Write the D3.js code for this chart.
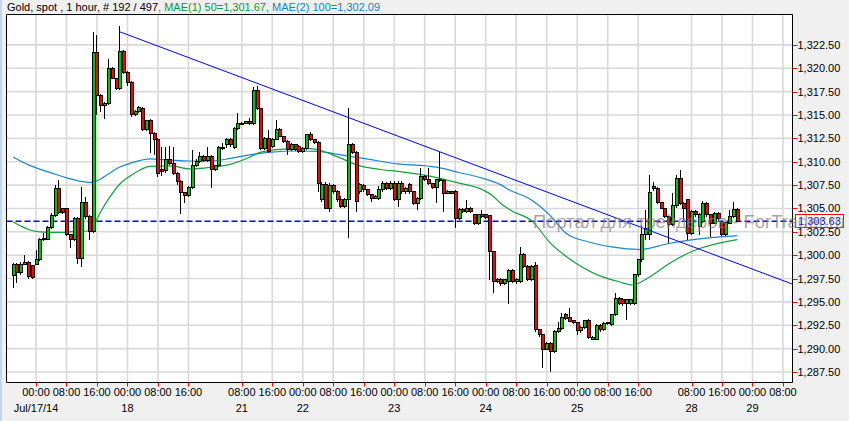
<!DOCTYPE html>
<html><head><meta charset="utf-8">
<script src="https://cdn.jsdelivr.net/npm/d3@7"></script>
<style>
html,body{margin:0;padding:0;background:#f0f0f0;overflow:hidden;}
svg{display:block;font-family:"Liberation Sans",Arial,sans-serif;}
</style></head><body>
<svg id="chart" width="849" height="421"></svg>
<script>
// ---- data (1-hour candles, index 0..190) ----
const opens = [
1297.85,1299.03,1298.17,1299.0,1299.2,1298.85,1299.03,1299.56,1301.63,1301.7,
1302.99,1304.27,1307.16,1304.98,1304.98,1302.24,1301.7,1303.95,1299.67,1305.66,
1304.13,1302.56,1321.72,1317.12,1316.05,1316.26,1319.97,1318.94,1317.87,1321.83,
1319.58,1318.51,1315.08,1315.37,1315.72,1313.47,1314.4,1313.04,1312.4,1309.12,
1309.01,1310.26,1309.76,1308.76,1307.87,1306.69,1306.34,1307.27,1309.55,1310.01,
1310.55,1310.12,1310.55,1309.12,1309.55,1311.55,1311.8,1312.33,1311.55,1313.58,
1314.0,1314.12,1314.26,1314.04,1317.61,1315.72,1311.44,1312.51,1311.62,1312.4,
1313.47,1312.69,1312.15,1311.26,1311.8,1311.6,1311.08,1311.44,1312.87,1312.33,
1312.05,1305.91,1307.59,1305.02,1307.41,1306.8,1305.91,1305.2,1305.98,1311.87,
1310.98,1306.8,1307.41,1306.98,1306.45,1306.09,1306.09,1306.98,1307.69,1307.16,
1307.69,1305.98,1307.69,1306.8,1307.52,1306.8,1305.55,1306.09,1308.41,1308.05,
1307.62,1307.27,1308.12,1307.98,1306.62,1306.8,1306.8,1303.95,1304.91,1304.66,
1305.02,1304.3,1303.34,1304.3,1304.3,1304.2,1300.38,1297.17,1297.45,1296.92,
1297.17,1298.35,1297.17,1297.17,1300.02,1298.78,1297.42,1298.85,1292.0,1291.53,
1289.93,1290.57,1289.68,1291.82,1292.18,1293.6,1293.36,1293.0,1292.79,1291.89,
1292.29,1293.0,1291.0,1291.0,1292.43,1292.0,1292.71,1292.53,1293.6,1295.39,
1295.28,1294.78,1294.85,1294.85,1297.88,1299.49,1302.16,1302.16,1307.34,1307.09,
1305.62,1305.02,1304.13,1303.23,1305.3,1308.16,1305.55,1305.91,1302.34,1304.66,
1303.06,1303.6,1305.55,1304.3,1303.41,1304.48,1303.48,1302.16,1303.41,1304.13,1304.91];
const highs = [
1299.21,1299.2,1299.3,1300.03,1299.4,1299.0,1300.56,1301.8,1302.35,1303.1,
1304.5,1307.52,1308.06,1305.1,1305.1,1302.3,1304.1,1304.1,1307.34,1306.2,
1304.3,1323.93,1323.57,1317.3,1316.4,1320.97,1320.1,1319.0,1324.53,1322.0,
1319.7,1318.6,1315.5,1316.0,1315.9,1314.5,1314.6,1313.2,1312.5,1311.55,
1311.55,1311.69,1311.55,1308.9,1308.0,1306.8,1307.4,1311.26,1310.3,1311.08,
1310.7,1311.62,1310.7,1309.7,1311.7,1311.97,1312.5,1312.5,1313.7,1315.19,
1314.3,1314.4,1314.65,1318.04,1318.11,1315.8,1312.6,1313.4,1312.5,1314.47,
1313.58,1312.8,1312.3,1312.0,1311.9,1311.8,1311.6,1313.0,1313.22,1312.4,
1312.2,1307.8,1307.8,1307.7,1307.6,1307.0,1306.3,1306.1,1315.72,1312.0,
1311.1,1307.7,1307.6,1307.1,1306.6,1306.4,1307.41,1307.9,1307.8,1307.9,
1307.9,1307.9,1307.9,1307.3,1307.7,1306.9,1306.2,1309.3,1308.6,1309.3,
1307.7,1308.2,1311.08,1308.1,1307.0,1306.9,1307.0,1305.0,1305.0,1305.91,
1305.2,1304.4,1304.4,1304.84,1304.4,1304.3,1300.5,1297.6,1297.6,1297.5,
1298.5,1298.5,1297.6,1300.91,1300.27,1298.9,1298.9,1299.31,1292.1,1291.6,
1290.7,1290.7,1292.0,1292.89,1293.85,1293.85,1294.32,1293.1,1292.9,1292.4,
1293.1,1293.2,1291.4,1292.6,1292.6,1292.9,1292.9,1293.7,1295.92,1295.5,
1295.4,1295.3,1295.3,1298.0,1299.6,1303.23,1304.84,1308.59,1307.8,1307.3,
1305.7,1305.1,1304.2,1306.62,1308.59,1309.12,1305.7,1306.0,1304.8,1304.8,
1304.5,1305.8,1305.7,1304.4,1304.6,1304.66,1303.6,1303.6,1304.84,1305.73,1305.0];
const lows = [
1296.46,1296.99,1297.9,1298.9,1297.5,1297.4,1298.9,1299.4,1301.5,1301.6,
1302.8,1304.1,1304.4,1304.4,1302.1,1300.74,1301.5,1299.1,1298.7,1303.9,
1301.63,1302.4,1315.01,1315.37,1314.55,1316.1,1318.8,1317.7,1317.7,1319.4,
1318.1,1314.83,1314.9,1315.2,1313.3,1313.3,1310.9,1310.73,1308.41,1308.5,
1308.8,1309.6,1308.6,1307.52,1304.41,1305.62,1306.2,1307.1,1309.4,1309.9,
1310.0,1310.0,1307.16,1309.0,1309.4,1311.3,1311.44,1311.6,1311.4,1313.4,
1313.9,1314.0,1313.9,1313.9,1315.5,1311.3,1311.3,1310.9,1311.5,1312.3,
1312.6,1312.0,1310.73,1311.1,1311.1,1310.9,1310.9,1311.3,1312.2,1311.9,
1306.8,1305.7,1304.9,1304.66,1306.6,1305.7,1305.02,1305.0,1301.81,1310.8,
1304.66,1306.6,1306.8,1306.3,1305.73,1306.0,1305.9,1306.8,1307.0,1307.0,
1305.8,1305.2,1306.6,1306.6,1306.6,1305.4,1304.84,1305.9,1307.9,1307.5,
1307.1,1305.55,1307.8,1304.66,1306.5,1306.5,1302.88,1303.8,1304.5,1304.5,
1304.5,1303.2,1303.2,1304.0,1303.9,1297.35,1295.99,1297.0,1296.71,1296.8,
1294.8,1297.0,1296.9,1297.0,1298.6,1297.2,1297.2,1291.8,1291.28,1287.9,
1289.86,1287.53,1289.5,1291.7,1292.0,1293.1,1292.8,1292.6,1291.46,1291.7,
1292.1,1291.0,1290.9,1290.9,1291.8,1291.9,1292.5,1292.4,1293.5,1294.7,
1294.6,1293.07,1294.7,1294.7,1297.7,1299.3,1301.63,1301.63,1306.9,1305.5,
1304.9,1304.0,1301.27,1303.1,1305.1,1305.4,1303.77,1301.63,1302.2,1304.1,
1302.2,1303.4,1304.1,1301.98,1303.3,1303.8,1302.0,1302.0,1303.3,1304.0,1303.5];
const closes = [
1299.03,1298.17,1299.03,1299.2,1297.67,1297.6,1299.56,1301.63,1301.81,1302.99,
1304.27,1307.16,1304.56,1304.56,1302.24,1301.7,1303.95,1299.67,1305.66,1304.13,
1302.56,1321.72,1317.12,1316.05,1316.26,1319.97,1318.94,1317.87,1321.83,1319.58,
1318.51,1315.08,1315.37,1315.83,1313.47,1314.4,1313.04,1312.4,1308.76,1308.94,
1310.26,1309.76,1308.76,1307.87,1306.69,1306.34,1307.27,1309.55,1310.01,1310.55,
1310.12,1310.55,1309.12,1309.55,1311.55,1311.44,1312.33,1311.8,1313.58,1314.04,
1314.12,1314.26,1314.04,1317.61,1315.72,1311.44,1312.51,1311.08,1312.4,1313.47,
1312.69,1312.15,1311.26,1311.8,1311.26,1311.08,1311.44,1312.87,1312.33,1312.05,
1307.69,1307.59,1305.02,1307.41,1306.8,1305.91,1305.2,1305.91,1311.87,1310.98,
1305.73,1307.52,1306.98,1306.45,1306.09,1306.27,1306.98,1307.69,1307.16,1307.69,
1305.98,1307.69,1306.8,1307.16,1306.8,1305.55,1306.09,1308.41,1308.05,1307.62,
1307.27,1308.05,1307.98,1306.62,1306.8,1306.62,1303.95,1304.84,1304.66,1305.02,
1304.66,1303.34,1304.3,1304.13,1304.06,1300.38,1297.17,1297.42,1296.92,1297.35,
1298.35,1297.17,1297.4,1300.02,1298.78,1297.42,1298.78,1292.0,1291.53,1289.93,
1290.57,1289.68,1291.82,1292.18,1293.36,1293.25,1292.89,1292.79,1291.89,1292.29,
1293.0,1291.21,1291.21,1292.43,1292.0,1292.71,1292.8,1293.6,1295.39,1294.85,
1294.78,1295.21,1295.21,1297.88,1299.49,1302.16,1302.88,1306.73,1307.09,1305.62,
1305.02,1304.13,1303.23,1305.3,1308.16,1305.55,1305.02,1302.34,1304.66,1304.3,
1304.38,1305.55,1304.3,1303.41,1304.48,1303.95,1302.16,1303.48,1304.13,1304.91,1303.63];

// moving averages: bar index -> value
const ma50Idx = [0,2,4.4,7,12.3,16.2,19.6,21,22.8,25.4,28,30.7,33.3,35.9,41.2,46.4,51.7,56.9,62.2,64.8,70,77.1,80.5,85.8,91,96.3,101.5,107.5,116.5,123.3,125.9,127.8,130.4,136.4,140.9,145.3,154,159.2,162.6,166.4,172.4,178.4,185.5,190];
const ma50Val = [1303.56,1303.13,1302.70,1302.49,1302.43,1302.54,1302.59,1303.13,1304.52,1306.23,1307.62,1308.48,1309.12,1309.50,1309.55,1309.23,1309.39,1309.71,1310.51,1311.0,1311.32,1311.42,1311.21,1310.41,1309.55,1309.17,1308.94,1308.59,1307.76,1306.98,1306.34,1305.59,1304.84,1303.56,1301.31,1299.81,1297.78,1297.13,1296.81,1297.51,1299.17,1300.45,1301.31,1301.67];
const ma100Idx = [0,4,10,15,20,23,25,28,31,36,41,46,52,57,62,67,75,80,86,91,96,101,107,112,117,122,128,130,136,141,145,151,157,164.5,172,178,185.5,190];
const ma100Val = [1310.51,1309.66,1308.80,1308.16,1307.78,1308.16,1308.69,1309.44,1309.87,1310.30,1310.19,1310.08,1310.08,1310.35,1310.73,1311.0,1311.15,1311.10,1310.73,1310.41,1310.08,1309.76,1309.60,1309.34,1308.85,1308.37,1307.52,1307.03,1305.91,1304.20,1302.38,1301.41,1300.88,1300.61,1301.25,1301.63,1301.95,1302.09];

// trend line (two anchor points) and current price
const trendIdx = [28, 210];
const trendVal = [1323.9, 1296.06];
const lastPrice = 1303.63;

// axis ticks
const yTicks = [1287.5,1290,1292.5,1295,1297.5,1300,1302.5,1305,1307.5,1310,1312.5,1315,1317.5,1320,1322.5];
const xTickIdx = [6,14,22,30,38,46,60,68,76,84,92,100,108,116,124,132,140,148,156,164,178,186,194,202];
const xTickTime = ["00:00","08:00","16:00","00:00","08:00","16:00","08:00","16:00","00:00","08:00","16:00","00:00","08:00","16:00","00:00","08:00","16:00","00:00","08:00","16:00","08:00","16:00","00:00","08:00"];
const xTickDate = ["Jul/17/14","","","18","","","21","","22","","","23","","","24","","","25","","","28","","29",""];

// ---- drawing ----
const svg = d3.select("#chart");
const L = 6.5, R = 792.5, T = 14.5, B = 382.5;
const x = d3.scaleLinear().domain([-1.61, 204.37]).range([7, 792]);
const y = d3.scaleLinear().domain([1286.43, 1325.7]).range([382, 15]);

svg.append("rect").attr("width", 849).attr("height", 421).attr("fill", "#f0f0f0");
svg.append("rect").attr("x", 0).attr("y", 0).attr("width", 2).attr("height", 421).attr("fill", "#c4d6ea");
svg.append("rect").attr("x", L).attr("y", T).attr("width", R - L).attr("height", B - T).attr("fill", "#fff");

// header
const hdr = svg.append("text").attr("x", 7).attr("y", 11).attr("font-size", 11);
hdr.append("tspan").attr("fill", "#000").text("Gold, spot , 1 hour, # 192 / 497");
hdr.append("tspan").attr("fill", "#0a9a3a").text(", MAE(1) 50=1,301.67");
hdr.append("tspan").attr("fill", "#1283cc").text(", MAE(2) 100=1,302.09");

svg.append("defs").append("clipPath").attr("id", "clip")
  .append("rect").attr("x", L).attr("y", T).attr("width", R - L).attr("height", B - T);

// grid
const grid = svg.append("g").attr("stroke", "#d9d9d9").attr("stroke-width", 1.6);
grid.selectAll("line.h").data(yTicks).join("line")
  .attr("x1", L).attr("x2", R).attr("y1", d => y(d)).attr("y2", d => y(d));
grid.selectAll("line.v").data(xTickIdx).join("line")
  .attr("x1", d => x(d)).attr("x2", d => x(d)).attr("y1", T).attr("y2", B);

const plot = svg.append("g").attr("clip-path", "url(#clip)");

// current price dashed line
plot.append("line").attr("x1", L).attr("x2", R)
  .attr("y1", y(lastPrice)).attr("y2", y(lastPrice))
  .attr("stroke", "#0000ff").attr("stroke-width", 1.5).attr("stroke-dasharray", "6,3");

// moving averages
const ln = d3.line().curve(d3.curveMonotoneX);
plot.append("path").attr("d", ln(ma100Idx.map((d, k) => [x(d), y(ma100Val[k])])))
  .attr("fill", "none").attr("stroke", "#1a86cf").attr("stroke-width", 1.2);
plot.append("path").attr("d", ln(ma50Idx.map((d, k) => [x(d), y(ma50Val[k])])))
  .attr("fill", "none").attr("stroke", "#13a03c").attr("stroke-width", 1.2);

// candles
const idx = d3.range(opens.length);
const cg = plot.append("g").attr("shape-rendering", "crispEdges");
cg.selectAll("line").data(idx).join("line")
  .attr("x1", i => Math.round(x(i) - 1.5) + 1.5).attr("x2", i => Math.round(x(i) - 1.5) + 1.5)
  .attr("y1", i => y(highs[i])).attr("y2", i => y(lows[i]))
  .attr("stroke", "#000").attr("stroke-width", 1);
cg.selectAll("rect").data(idx).join("rect")
  .attr("x", i => Math.round(x(i) - 1.5) + 0.5)
  .attr("width", 2.8)
  .attr("y", i => y(Math.max(opens[i], closes[i])))
  .attr("height", i => Math.max(1, Math.abs(y(opens[i]) - y(closes[i]))))
  .attr("fill", i => closes[i] >= opens[i] ? "#00c800" : "#ff0000")
  .attr("stroke", "#000").attr("stroke-width", 1);

// trend line
plot.append("line")
  .attr("x1", x(trendIdx[0])).attr("y1", y(trendVal[0]))
  .attr("x2", x(trendIdx[1])).attr("y2", y(trendVal[1]))
  .attr("stroke", "#0000ff").attr("stroke-width", 1);

// frame
svg.append("path").attr("d", `M${L},${T}H${R}V${B}H${L}Z`)
  .attr("fill", "none").attr("stroke", "#000").attr("stroke-width", 1);

// y axis
const ya = svg.append("g");
ya.selectAll("line").data(yTicks).join("line")
  .attr("x1", R).attr("x2", R + 5).attr("y1", d => Math.round(y(d)) + 0.5).attr("y2", d => Math.round(y(d)) + 0.5)
  .attr("stroke", "#ff0000");
ya.selectAll("text").data(yTicks).join("text")
  .attr("x", R + 5).attr("y", d => y(d) + 4).attr("font-size", 11).attr("fill", "#000")
  .text(d => d3.format(",.2f")(d));

// x axis
const xa = svg.append("g");
xa.selectAll("line").data(xTickIdx).join("line")
  .attr("x1", d => Math.round(x(d)) + 0.5).attr("x2", d => Math.round(x(d)) + 0.5)
  .attr("y1", B).attr("y2", B + 4).attr("stroke", "#ff0000");
xa.selectAll("text.t").data(xTickIdx).join("text").attr("class", "t")
  .attr("x", d => x(d)).attr("y", 396).attr("font-size", 11).attr("text-anchor", "middle")
  .text((d, k) => xTickTime[k]);
xa.selectAll("text.d").data(xTickIdx).join("text").attr("class", "d")
  .attr("x", d => x(d)).attr("y", 412).attr("font-size", 11).attr("text-anchor", "middle")
  .text((d, k) => xTickDate[k]);

// current price label
const ly = y(lastPrice);
svg.append("rect").attr("x", 795.5).attr("y", Math.round(ly) - 6.5).attr("width", 48).attr("height", 13)
  .attr("fill", "#fff").attr("stroke", "#ff0000").attr("stroke-width", 1);
svg.append("text").attr("x", 798).attr("y", ly + 4).attr("font-size", 11).attr("fill", "#0000ff")
  .text(d3.format(",.2f")(lastPrice));

// watermark overlay
svg.append("text").attr("x", 533).attr("y", 228).attr("font-size", 18)
  .attr("fill", "#8a7f7f").attr("fill-opacity", 0.72)
  .attr("textLength", 312).attr("lengthAdjust", "spacingAndGlyphs")
  .text("Портал для трейдеров - ForTrader.ru");
</script>
</body></html>
